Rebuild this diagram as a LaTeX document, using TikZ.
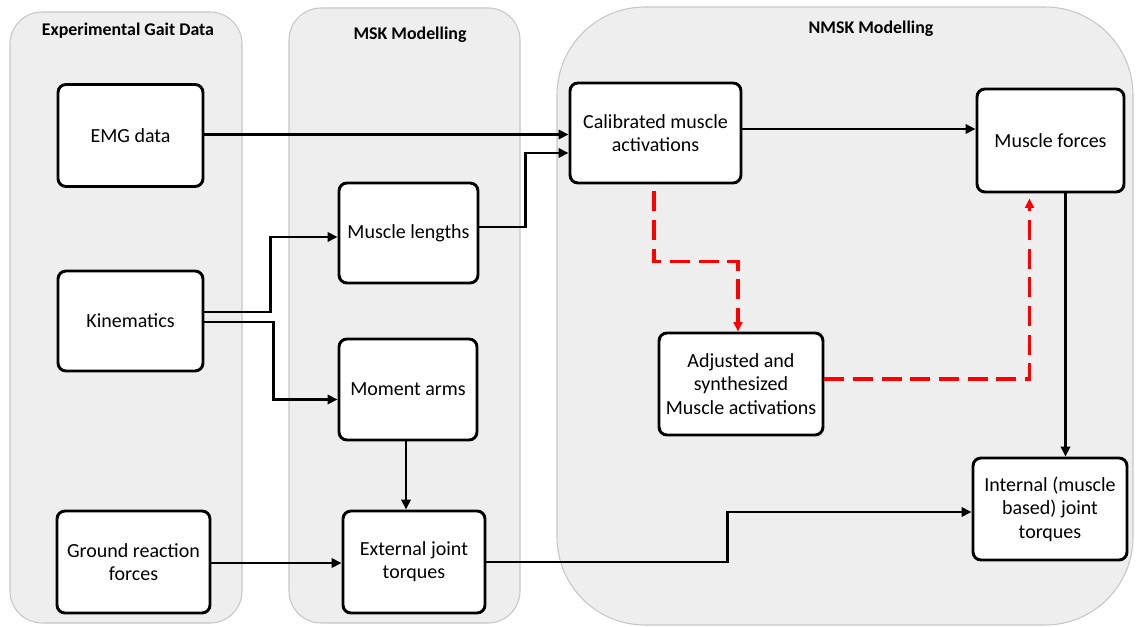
\documentclass[tikz,border=0pt]{standalone}
\usepackage{fontspec}
\setmainfont{Carlito}
\usetikzlibrary{calc,arrows.meta}
\begin{document}
\begin{tikzpicture}[x=0.75pt,y=-0.75pt,
  panel/.style={draw=black!22,fill=black!6.5,line width=0.8pt},
  ptitle/.style={font=\fontsize{13.4}{15}\selectfont\bfseries},
  box/.style={draw=black,fill=white,line width=2.2pt,rounded corners=6pt,align=center,
    font=\fontsize{15}{17.5}\selectfont,inner sep=1pt},
  sz/.style 2 args={minimum width={#1*0.75pt},minimum height={#2*0.75pt}},
  arr/.style={line width=2.1pt,-{Triangle[length=7.5pt,width=7pt]}},
  rarr/.style={draw=red,line width=2.5pt,dash pattern=on 15pt off 6.5pt,-{Triangle[length=7pt,width=6.5pt]}}]
\useasboundingbox[fill=white] (0,0) rectangle (1136,627);
% panels
\path[panel,rounded corners=24pt] (10,12) rectangle (242,623);
\path[panel,rounded corners=24pt] (289,8) rectangle (520,623);
\path[panel,rounded corners=66pt] (557,7) rectangle (1133,625);
\node[ptitle] (t1) at (128,31) {Experimental Gait Data};
\node[ptitle] (t2) at (410,35) {MSK Modelling};
\node[ptitle] (t3) at (871,29) {NMSK Modelling};
% boxes
\node[box,sz={145}{102}] (emg) at (130.5,135.5) {EMG data};
\node[box,sz={145}{100}] (kin) at (130.5,321) {Kinematics};
\node[box,sz={153}{102}] (grf) at (133.5,562) {Ground reaction\\forces};
\node[box,sz={139}{100}] (ml) at (408.5,233) {Muscle lengths};
\node[box,sz={138}{101}] (ma) at (408,389.5) {Moment arms};
\node[box,sz={142}{102}] (ejt) at (414,562) {External joint\\torques};
\node[box,sz={171}{100}] (cal) at (655.5,133) {Calibrated muscle\\activations};
\node[box,sz={147}{103}] (mf) at (1050.5,140.5) {Muscle forces};
\node[box,sz={164}{102}] (adj) at (741,384) {Adjusted and\\synthesized\\Muscle activations};
\node[box,sz={154}{102}] (int) at (1050,509) {Internal (muscle\\based) joint\\torques};
% black connectors
\draw[arr] ($(emg.east)+(0,-1)$) -- ($(emg.east -| cal.west)+(0,-1)$);
\draw[arr] ($(ml.east)+(0,-6)$) -- ++(46,0) |- ($(cal.west)+(0,20)$);
\draw[arr] ($(kin.east)+(0,-9)$) -- ++(66,0) |- ($(ml.west)+(0,4)$);
\draw[arr] ($(kin.east)+(0,1)$) -- ++(69,0) |- ($(ma.west)+(0,10)$);
\coordinate (mab) at ($(ma.south)+(-2,0)$);
\draw[arr] (mab) -- (mab |- ejt.north);
\draw[arr] ($(grf.east)+(0,1)$) -- ($(grf.east -| ejt.west)+(0,1)$);
\draw[arr] (ejt.east) -- ++(241,0) |- ($(int.west)+(0,3)$);
\draw[arr] ($(cal.east)+(0,-4)$) -- ($(cal.east -| mf.west)+(0,-4)$);
\coordinate (mfb) at ($(mf.south)+(15,0)$);
\draw[arr] (mfb) -- (mfb |- int.north);
% red dashed connectors
\draw[rarr] ($(cal.south)+(-1.5,7)$) -- ++(0,70) -| ($(adj.north)+(-3,0)$);
\draw[rarr] ($(adj.east)+(0,-5)$) -| ($(mf.south)+(-21,5)$);
\end{tikzpicture}
\end{document}
